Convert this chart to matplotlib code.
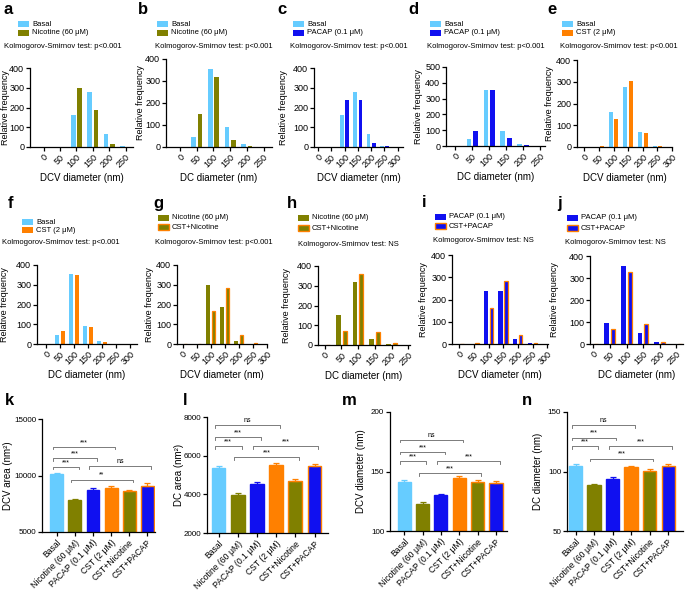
import matplotlib
matplotlib.use('Agg')
import matplotlib.pyplot as plt
from matplotlib.patches import Rectangle
import numpy as np

plt.rcParams['font.family'] = ['Liberation Sans', 'DejaVu Sans']
plt.rcParams['axes.linewidth'] = 0.9
plt.rcParams['xtick.major.width'] = 0.9
plt.rcParams['ytick.major.width'] = 0.9
plt.rcParams['xtick.major.size'] = 3
plt.rcParams['ytick.major.size'] = 3

W, H = 685, 591
fig = plt.figure(figsize=(W / 100, H / 100), dpi=100)

C_BASAL = '#66CCFF'
C_NIC = '#808000'
C_PACAP = '#1010F0'
C_CST = '#FF8000'

# ---------------- data ----------------
bin_labels = ['0', '50', '100', '150', '200', '250', '300']

basal_dcv = [0, 0, 162, 278, 68, 3, 0]
nic_dcv = [0, 2, 300, 185, 17, 1, 0]
pacap_dcv = [0, 0, 240, 240, 22, 5, 0]
cst_dcv = [0, 5, 130, 305, 65, 5, 0]
cstnic_dcv = [0, 0, 167, 285, 47, 5, 0]
cstpacap_dcv = [0, 3, 160, 285, 42, 3, 0]

basal_dc = [0, 47, 355, 92, 14, 1, 0]
nic_dc = [0, 150, 318, 30, 5, 0, 0]
pacap_dc = [0, 97, 355, 48, 8, 0, 0]
cst_dc = [0, 65, 348, 88, 10, 0, 0]
cstnic_dc = [0, 70, 360, 67, 8, 0, 0]
cstpacap_dc = [0, 67, 327, 90, 8, 1, 0]

groups = ['Basal', 'Nicotine (60 μM)', 'PACAP (0.1 μM)', 'CST (2 μM)',
          'CST+Nicotine', 'CST+PACAP']

dcv_area_mean = [10100, 7800, 8700, 8900, 8600, 9100]
dcv_area_err = [150, 150, 150, 150, 150, 200]
dc_area_mean = [5380, 3950, 4520, 5500, 4680, 5460]
dc_area_err = [100, 100, 100, 130, 100, 130]
dcv_diam_mean = [141.5, 123, 130, 144.5, 141, 140.5]
dcv_diam_err = [1.5, 1.5, 1.5, 1.5, 1.5, 1.5]
dc_diam_mean = [105, 88.5, 94, 103.5, 100.5, 104.5]
dc_diam_err = [1.2, 1.2, 1.2, 1.5, 1.2, 1.5]

# brackets: (i, j, label, y)
k_brackets = [(0, 1, '***', 10770), (0, 2, '***', 11510), (0, 3, '***', 12540),
              (1, 4, '**', 9645), (2, 5, 'ns', 10830)]
l_brackets = [(0, 1, '***', 6480), (0, 2, '***', 6966), (0, 3, 'ns', 7570),
              (1, 4, '***', 5930), (2, 5, '***', 6500)]
m_brackets = [(0, 1, '***', 158.9), (0, 2, '***', 166.5), (0, 3, 'ns', 176.8),
              (1, 4, '***', 148.6), (2, 5, '***', 158.9)]
n_brackets = [(0, 1, '***', 121.2), (0, 2, '***', 128.5), (0, 3, 'ns', 138.8),
              (1, 4, '***', 110.9), (2, 5, '***', 121.2)]

# style per series: (face, edge)
STY = {
    'Basal': (C_BASAL, C_BASAL),
    'Nicotine (60 μM)': (C_NIC, C_NIC),
    'PACAP (0.1 μM)': (C_PACAP, C_PACAP),
    'CST (2 μM)': (C_CST, C_CST),
    'CST+Nicotine': (C_NIC, C_CST),
    'CST+PACAP': (C_PACAP, C_CST),
}


def px_axes(left, top, right, bottom):
    return fig.add_axes([left / W, 1 - bottom / H, (right - left) / W, (bottom - top) / H])


def ftext(x, y, s, **kw):
    fig.text(x / W, 1 - y / H, s, **kw)


def legend_entry(x, yc, name):
    face, edge = STY[name]
    lw = 1.0 if face != edge else 0.0
    r = Rectangle((x / W, 1 - (yc + 3) / H), 11 / W, 6 / H, transform=fig.transFigure,
                  facecolor=face, edgecolor=edge, linewidth=lw)
    fig.add_artist(r)
    ftext(x + 14, yc, name, fontsize=5.5, va='center', ha='left')


def style_axes(ax):
    ax.spines['top'].set_visible(False)
    ax.spines['right'].set_visible(False)
    ax.tick_params(direction='out', pad=1.2)


def set_ylabel_px(ax, rect, text, size, offset):
    # offset: distance in px from the y axis to the right edge of the label
    ax.set_ylabel(text, fontsize=size)
    width = rect[2] - rect[0]
    ax.yaxis.set_label_coords(-offset / width, 0.5)


def hist_panel(letter, lpos, rect, s1, s2, v1, v2, nb, ymax, xlabel, ks, kspos,
               legpos, xlim, yoff):
    ax = px_axes(*rect)
    x = np.arange(nb)
    for off, name, vals in [(-0.19, s1, v1), (0.19, s2, v2)]:
        face, edge = STY[name]
        lw = 0.9 if face != edge else 0.0
        ax.bar(x + off, vals[:nb], width=0.28 if lw == 0 else 0.24, color=face,
               edgecolor=edge, linewidth=lw, zorder=2)
    ax.set_ylim(0, ymax)
    ax.set_yticks(np.arange(0, ymax + 1, 100))
    ax.set_xlim(*xlim)
    ax.set_xticks(x)
    ax.set_xticklabels(bin_labels[:nb], rotation=45, ha='right',
                       rotation_mode='anchor', fontsize=6.5)
    ax.tick_params(axis='y', labelsize=6.5)
    style_axes(ax)
    set_ylabel_px(ax, rect, 'Relative frequency', 6.5, yoff)
    ax.set_xlabel(xlabel, fontsize=7, labelpad=2)
    ftext(lpos[0], lpos[1], letter, fontsize=12, fontweight='bold', va='baseline')
    ftext(kspos[0], kspos[1], ks, fontsize=5.5, va='center')
    lx, y1, y2 = legpos
    legend_entry(lx, y1, s1)
    legend_entry(lx, y2, s2)
    return ax


KS1 = 'Kolmogorov-Smirnov test: p<0.001'
KSN = 'Kolmogorov-Smirnov test: NS'

# row 1
hist_panel('a', (3, 14), (30, 68, 133, 147), 'Basal', 'Nicotine (60 μM)',
           basal_dcv, nic_dcv, 6, 400, 'DCV diameter (nm)', KS1, (4, 46), (18, 24, 33), (-0.83, 5.45), 20)
hist_panel('b', (138, 14), (166, 59, 272, 147), 'Basal', 'Nicotine (60 μM)',
           basal_dc, nic_dc, 6, 400, 'DC diameter (nm)', KS1, (155, 46), (157, 24, 33), (-0.84, 5.5), 21)
hist_panel('c', (277, 14), (314, 68, 403, 147), 'Basal', 'PACAP (0.1 μM)',
           basal_dcv, pacap_dcv, 7, 400, 'DCV diameter (nm)', KS1, (290, 46), (293, 24, 33), (-0.3, 6.4), 26)
hist_panel('d', (408, 14), (446, 67, 545, 146), 'Basal', 'PACAP (0.1 μM)',
           basal_dc, pacap_dc, 6, 500, 'DC diameter (nm)', KS1, (427, 46), (430, 24, 33), (-0.55, 5.3), 23)
hist_panel('e', (547, 14), (577, 60, 672, 147), 'Basal', 'CST (2 μM)',
           basal_dcv, cst_dcv, 7, 400, 'DCV diameter (nm)', KS1, (560, 46), (562, 24, 33), (-0.5, 6.0), 23)
# row 2
hist_panel('f', (8, 208), (37, 265, 137, 344), 'Basal', 'CST (2 μM)',
           basal_dc, cst_dc, 7, 400, 'DC diameter (nm)', KS1, (2, 242), (22, 222, 230), (-0.64, 6.5), 28)
hist_panel('g', (153, 208), (177, 265, 267, 344), 'Nicotine (60 μM)', 'CST+Nicotine',
           nic_dcv, cstnic_dcv, 7, 400, 'DCV diameter (nm)', KS1, (155, 242), (158, 218, 227), (-0.4, 6.0), 23)
hist_panel('h', (287, 208), (318, 266, 410, 345), 'Nicotine (60 μM)', 'CST+Nicotine',
           nic_dc, cstnic_dc, 6, 400, 'DC diameter (nm)', KSN, (298, 245), (298, 218, 228), (-0.4, 5.1), 27)
hist_panel('i', (422, 207), (452, 255, 548, 344), 'PACAP (0.1 μM)', 'CST+PACAP',
           pacap_dcv, cstpacap_dcv, 7, 400, 'DCV diameter (nm)', KSN, (433, 240), (435, 217, 226), (-0.5, 6.05), 24)
hist_panel('j', (557, 208), (590, 256, 683, 344), 'PACAP (0.1 μM)', 'CST+PACAP',
           pacap_dc, cstpacap_dc, 6, 400, 'DC diameter (nm)', KSN, (565, 242), (567, 218, 228), (-0.2, 5.4), 31)


def bar_panel(letter, lpos, rect, means, errs, ylim, yticks, ylabel, brackets, xlim,
              yoff):
    ax = px_axes(*rect)
    x = np.arange(len(groups))
    for i, g in enumerate(groups):
        face, edge = STY[g]
        ax.bar(x[i], means[i], width=0.72, color=face, edgecolor=edge, linewidth=1.0,
               zorder=2)
        ax.errorbar(x[i], means[i], yerr=[[0], [errs[i]]], fmt='none', ecolor=edge,
                    elinewidth=0.9, capsize=2.5, capthick=0.9, zorder=3)
    ax.set_ylim(*ylim)
    ax.set_yticks(yticks)
    ax.set_xlim(*xlim)
    ax.set_xticks(x)
    ax.set_xticklabels(groups, rotation=45, ha='right', rotation_mode='anchor',
                       fontsize=6.2)
    ax.tick_params(axis='y', labelsize=5.8)
    style_axes(ax)
    set_ylabel_px(ax, rect, ylabel, 7, yoff)
    rng = ylim[1] - ylim[0]
    d = rng * 0.022
    for i, j, lab, y in brackets:
        x1, x2 = i - 0.2, j + 0.2
        ax.plot([x1, x1, x2, x2], [y - d, y, y, y - d], color='#666666', lw=0.6,
                zorder=4, clip_on=False)
        ax.text((x1 + x2) / 2, y + rng * 0.008, lab, fontsize=5, ha='center',
                va='bottom')
    ftext(lpos[0], lpos[1], letter, fontsize=12, fontweight='bold', va='baseline')
    return ax


bar_panel('k', (5, 405), (42, 419, 155, 532), dcv_area_mean, dcv_area_err,
          (5000, 15000), [5000, 10000, 15000], 'DCV area (nm²)', k_brackets, (-0.83, 5.44), 29)
bar_panel('l', (183, 405), (207, 417, 328, 533), dc_area_mean, dc_area_err,
          (2000, 8000), [2000, 4000, 6000, 8000], 'DC area (nm²)', l_brackets, (-0.6, 5.7), 23)
bar_panel('m', (342, 405), (390, 412, 507, 531), dcv_diam_mean, dcv_diam_err,
          (100, 200), [100, 150, 200], 'DCV diameter (nm)', m_brackets, (-0.77, 5.6), 24)
bar_panel('n', (522, 405), (567, 412, 683, 531), dc_diam_mean, dc_diam_err,
          (50, 150), [50, 100, 150], 'DC diameter (nm)', n_brackets, (-0.46, 5.8), 24)

fig.savefig('out.png', dpi=100)
